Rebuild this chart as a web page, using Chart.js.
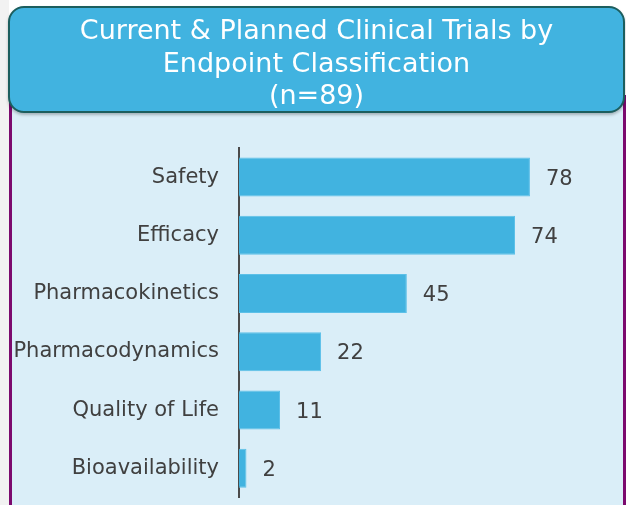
<!DOCTYPE html>
<html>
<head>
<meta charset="utf-8">
<script src="https://cdn.jsdelivr.net/npm/chart.js@4"></script>
<style>
  html, body { margin: 0; padding: 0; }
  body { width: 626px; height: 505px; position: relative; overflow: hidden; background: #ffffff; }
  #leftStrip { position: absolute; left: 0; top: 0; width: 9px; height: 505px; background: #f2f2f2; }
  #panel {
    position: absolute; left: 9px; top: 95px; width: 611px; height: 410px;
    background: #daeef8; border-left: 3px solid #7b0a6e; border-right: 3px solid #7b0a6e;
  }
  #title {
    position: absolute; left: 8px; top: 6px; width: 613px; height: 97px;
    background: #41b3e0; border: 2px solid #1c5e5e; border-radius: 16px;
    box-shadow: 0 2px 3px rgba(0,0,0,0.25);
    color: #ffffff; font-family: "DejaVu Sans", Verdana, sans-serif; font-size: 27px;
    line-height: 32.5px; text-align: center; padding-top: 6px; box-sizing: content-box;
    z-index: 2;
  }
  #chartBox { position: absolute; left: 0; top: 0; width: 626px; height: 530px; z-index: 1; }
  canvas { display: block; }
</style>
</head>
<body>
<div id="leftStrip"></div>
<div id="panel"></div>
<div id="title">Current &amp; Planned Clinical Trials by<br>Endpoint Classification<br>(n=89)</div>
<div id="chartBox"><canvas id="endpointChart" width="626" height="530"></canvas></div>
<script>
  // --- Data ---
  const categories = ["Safety", "Efficacy", "Pharmacokinetics", "Pharmacodynamics", "Quality of Life", "Bioavailability"];
  const trialCounts = [78, 74, 45, 22, 11, 2];

  const textColor = "#404040";
  const barColor = "#41b3e0";
  const fontFamily = '"DejaVu Sans", Verdana, sans-serif';

  // draws the count to the right of each bar
  const valueLabels = {
    id: "valueLabels",
    afterDatasetsDraw(chart) {
      const ctx = chart.ctx;
      const meta = chart.getDatasetMeta(0);
      ctx.save();
      ctx.font = "21px " + fontFamily;
      ctx.fillStyle = textColor;
      ctx.textAlign = "left";
      ctx.textBaseline = "middle";
      meta.data.forEach(function (bar, i) {
        ctx.fillText(String(trialCounts[i]), bar.x + 16, bar.y + 2);
      });
      ctx.restore();
    },
  };

  new Chart(document.getElementById("endpointChart"), {
    type: "bar",
    data: {
      labels: categories,
      datasets: [
        {
          data: trialCounts,
          backgroundColor: barColor,
          borderColor: "#5cc0e8",
          borderWidth: 1,
          barPercentage: 0.67,
          categoryPercentage: 1,
        },
      ],
    },
    options: {
      indexAxis: "y",
      responsive: false,
      maintainAspectRatio: false,
      animation: false,
      layout: { padding: { top: 148, bottom: 0, right: 14, left: 0 } },
      plugins: {
        legend: { display: false },
        tooltip: { enabled: false },
      },
      scales: {
        x: { display: false, min: 0, max: 100 },
        y: {
          afterFit: function (scale) { scale.width = 239; },
          grid: { display: false, drawTicks: false },
          border: { display: true, color: "#4a4a4a", width: 2 },
          ticks: {
            padding: 20,
            color: textColor,
            font: { family: fontFamily, size: 21 },
          },
        },
      },
    },
    plugins: [valueLabels],
  });
</script>
</body>
</html>
